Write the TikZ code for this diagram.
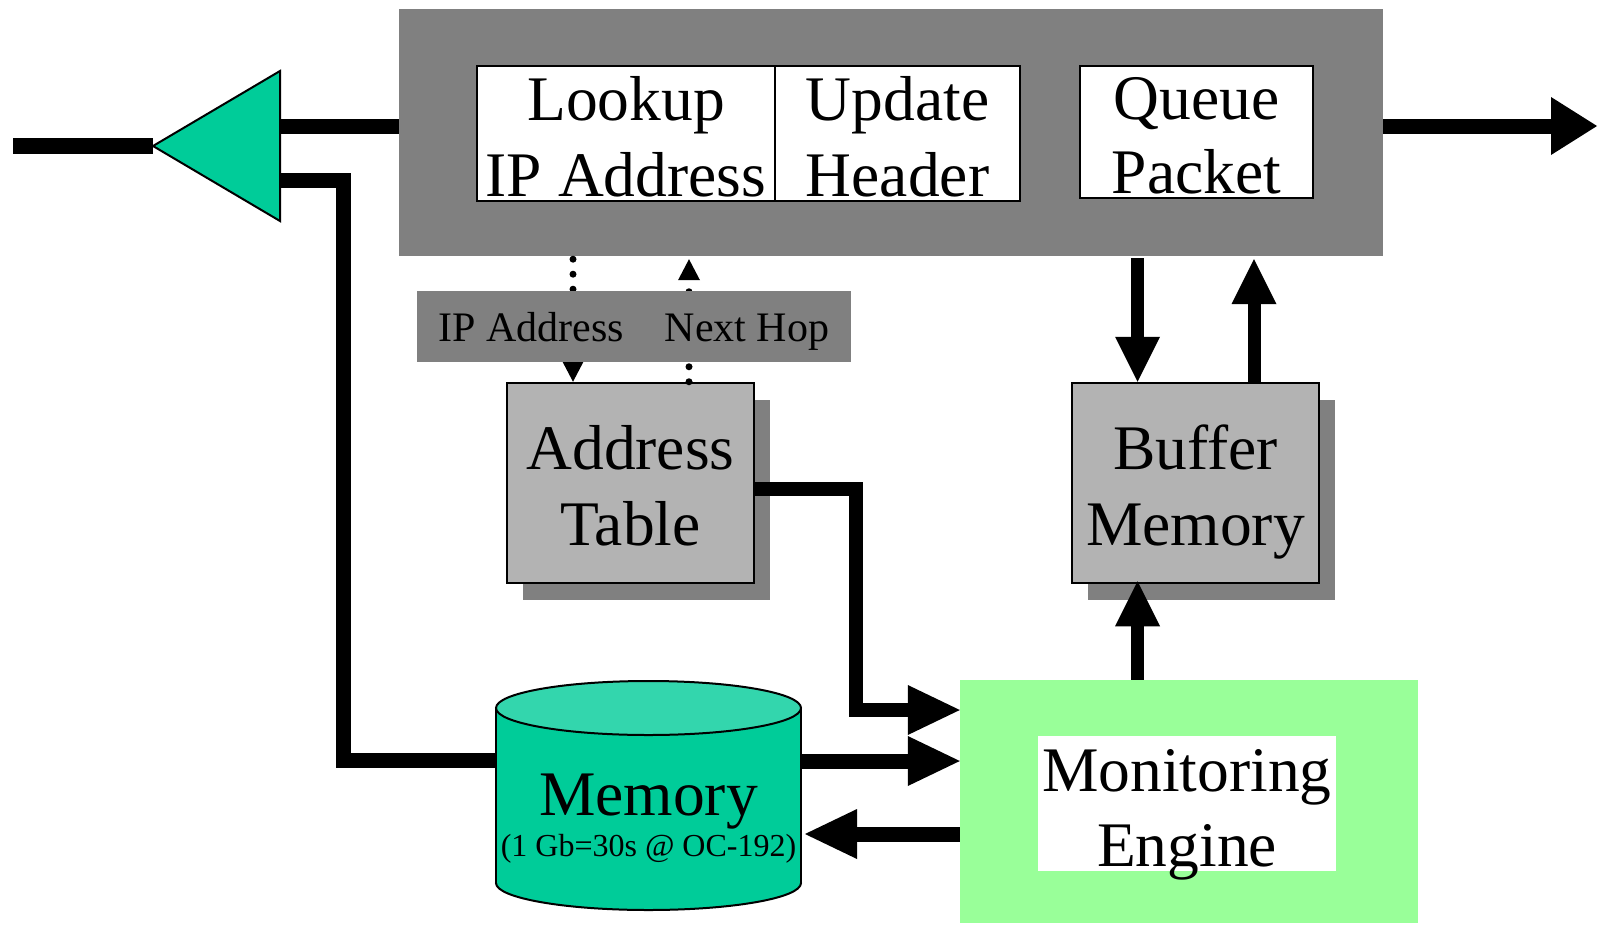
\documentclass[tikz,border=0pt]{standalone}
\usepackage{fontspec}
\setmainfont{Liberation Serif}
\usetikzlibrary{arrows.meta,shadows}

\definecolor{panel}{HTML}{808080}
\definecolor{tablegray}{HTML}{B3B3B3}
\definecolor{ampgreen}{HTML}{00CC99}
\definecolor{cyltop}{HTML}{33D6AD}
\definecolor{mongreen}{HTML}{99FF99}

\tikzset{
  bigtext/.style={font=\fontsize{63.5}{76}\selectfont, inner sep=0pt, anchor=base},
  labtext/.style={font=\fontsize{42}{50}\selectfont, inner sep=0pt, anchor=base},
  smalltext/.style={font=\fontsize{32}{38}\selectfont, inner sep=0pt, anchor=base},
  stagebox/.style={draw=black, line width=2.5pt, fill=white, inner sep=0pt},
  tablebox/.style={draw=black, line width=2.5pt, fill=tablegray, inner sep=0pt,
    minimum width=247pt, minimum height=200pt,
    drop shadow={shadow xshift=16pt, shadow yshift=-17pt, fill=panel, opacity=1}},
  wire/.style={line width=15pt, line join=miter, draw=black},
  thinwire/.style={line width=13pt, line join=miter, draw=black},
  dotwire/.style={line width=7pt, line cap=round, dash pattern=on 0pt off 15pt, draw=black},
  headbig/.style={-{Triangle[length=52pt,width=50pt,line width=0pt]}},
  headout/.style={-{Triangle[length=46pt,width=58pt,line width=0pt]}},
  headmid/.style={-{Triangle[length=45pt,width=45pt,line width=0pt]}},
  headsmall/.style={-{Triangle[length=21pt,width=22pt,line width=0pt]}},
}

\begin{document}
\begin{tikzpicture}[x=1pt,y=-1pt]
\useasboundingbox (0,0) rectangle (1598,924);

% amplifier / output driver
\coordinate (ampTip) at (153,146);
\coordinate (ampTop) at (280,71);
\coordinate (ampBot) at (280,221);
\coordinate (ampOut1) at (280,126.5);
\coordinate (ampOut2) at (280,180);
\coordinate (inEnd) at (13,146);
\coordinate (fb) at (343,760);
\coordinate (memW) at (496,760);

% cylinder placeholder node for memory
\node[minimum width=305pt, minimum height=229pt, inner sep=0pt] (memory) at (648.5,795.5) {};

% processing panel
\node[fill=panel, inner sep=0pt, minimum width=984pt, minimum height=247pt] (gray) at (891,132.5) {};

% wires into the driver
\draw[wire] (ampOut2) -| (fb) -- (memW);
\draw[wire] (gray.west |- ampOut1) -- (ampOut1);
\draw[line width=16pt] (inEnd) -- (ampTip);
\filldraw[fill=ampgreen, draw=black, line width=2pt, line join=miter] (ampTip) -- (ampTop) -- (ampBot) -- cycle;

% pipeline stages
\node[stagebox, minimum width=298pt, minimum height=135pt] (lookup) at (626,133.5) {};
\node[stagebox, minimum width=245pt, minimum height=135pt] (update) at (897.5,133.5) {};
\node[stagebox, minimum width=233pt, minimum height=132pt] (queue) at (1196.5,132) {};
\node[bigtext] (lookupA) at (626,120) {Lookup};
\node[bigtext] (lookupB) at (626,196) {IP Address};
\node[bigtext] (updateA) at (897.5,120) {Update};
\node[bigtext] (updateB) at (897.5,196) {Header};
\node[bigtext] (queueA) at (1196.5,119) {Queue};
\node[bigtext] (queueB) at (1196.5,193) {Packet};

% output link
\coordinate (outEnd) at (1597,126);
\draw[wire, headout] (gray.east |- outEnd) -- (outEnd);

% tables
\node[tablebox] (addr) at (630.5,483) {};
\node[tablebox] (buf) at (1195.5,483) {};
\node[bigtext] (addrA) at (630.5,469) {Address};
\node[bigtext] (addrB) at (630.5,545) {Table};
\node[bigtext] (bufA) at (1195.5,469) {Buffer};
\node[bigtext] (bufB) at (1195.5,545) {Memory};

% lookup request / reply
\coordinate (reqX) at (573,0);
\coordinate (repX) at (689,0);
\draw[dotwire, headsmall] ([yshift=-3pt]gray.south -| reqX) -- (addr.north -| reqX);
\draw[dotwire, headsmall] (addr.north -| repX) -- ([yshift=-3pt]gray.south -| repX);
\node[fill=panel, inner sep=0pt, minimum width=434pt, minimum height=71pt] (lab) at (634,326.5) {};
\node[labtext] (labIP) at (531,341) {IP Address};
\node[labtext] (labHop) at (747,341) {Next Hop};

% buffer traffic
\coordinate (bufL) at (1137.5,0);
\coordinate (bufR) at (1254,0);
\draw[thinwire, headmid] ([yshift=-2pt]gray.south -| bufL) -- (buf.north -| bufL);
\draw[thinwire, headmid] (buf.north -| bufR) -- ([yshift=-3pt]gray.south -| bufR);

% monitoring engine
\node[fill=mongreen, inner sep=0pt, minimum width=458pt, minimum height=243pt] (mon) at (1189,801.5) {};
\node[fill=white, inner sep=0pt, minimum width=298pt, minimum height=135pt] (monin) at (1187,803.5) {};
\node[bigtext] (monA) at (1187,791) {Monitoring};
\node[bigtext] (monB) at (1187,866) {Engine};

\draw[thinwire, headmid] (mon.north -| bufL) -- ([yshift=3pt]buf.south -| bufL);

% table to monitor
\coordinate (a2m) at (856,710);
\draw[line width=14pt, line join=miter, headbig] ([yshift=-5.5pt]addr.east) -| (a2m) -- (a2m -| mon.west);

% memory cylinder
\filldraw[fill=ampgreen, draw=black, line width=2pt] (648.5,883) ellipse (152.5 and 27);
\fill[ampgreen] (496,708) rectangle (801,883);
\draw[line width=2pt] (496,708) -- (496,883) (801,708) -- (801,883);
\filldraw[fill=cyltop, draw=black, line width=2pt] (648.5,708) ellipse (152.5 and 27);
\node[bigtext] (memA) at (648.5,815) {Memory};
\node[smalltext] (memB) at (648.5,856) {(1 Gb=30s @ OC-192)};

% memory and monitor exchange
\coordinate (memE) at (801,761);
\coordinate (m2m) at (805,834);
\draw[wire, headbig] (memE) -- (memE -| mon.west);
\draw[wire, headbig] (m2m -| mon.west) -- (m2m);
\end{tikzpicture}
\end{document}
